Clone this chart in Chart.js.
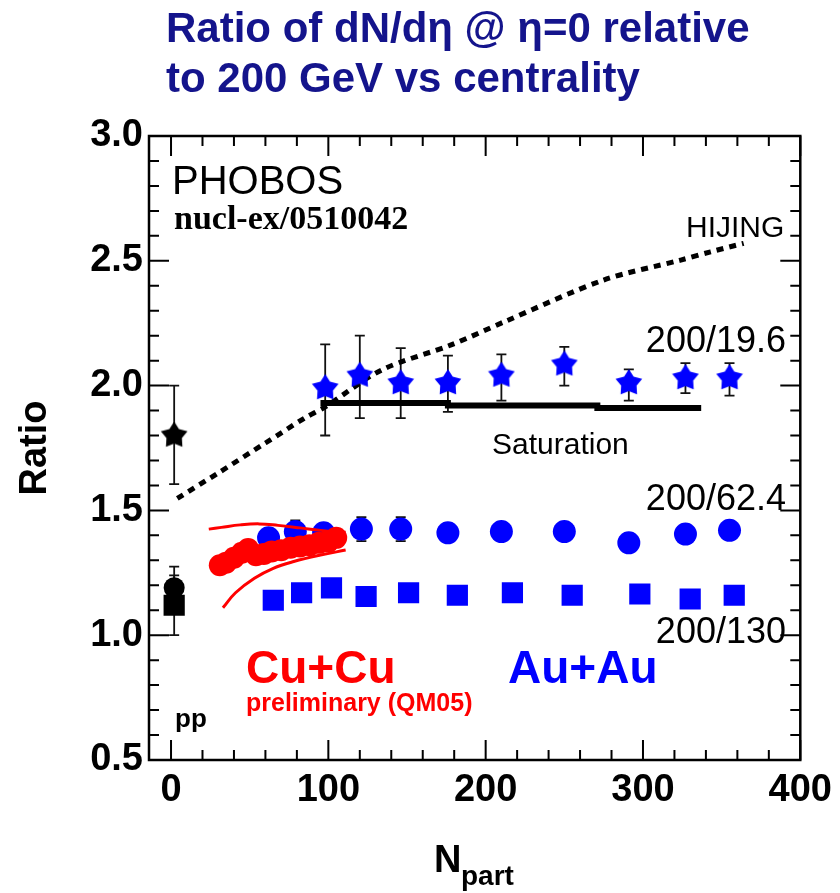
<!DOCTYPE html>
<html>
<head>
<meta charset="utf-8">
<script src="https://cdn.jsdelivr.net/npm/chart.js@4.4.0/dist/chart.umd.min.js"></script>
<style>
  html, body { margin: 0; padding: 0; background: #fff; }
  #wrap { width: 840px; height: 893px; }
</style>
</head>
<body>
<div id="wrap"><canvas id="chart" width="840" height="893"></canvas></div>
<script>
// ── 座標軸刻度 ──
const xTicks = [0, 100, 200, 300, 400];
const yTicks = [0.5, 1.0, 1.5, 2.0, 2.5, 3.0];

// ── Au+Au 200/62.4 (圓點) ──
const au624Npart = [62, 79, 97, 121, 146, 176, 210, 250, 291, 327, 355];
const au624      = [1.39, 1.415, 1.41, 1.425, 1.425, 1.41, 1.415, 1.415, 1.37, 1.405, 1.42];
const au624Err   = [0.02, 0.045, 0.035, 0.048, 0.048, 0.02, 0.02, 0.02, 0.02, 0.02, 0.02];

// ── Au+Au 200/130 (方塊) ──
const au130Npart = [65, 83, 102, 124, 151, 182, 217, 255, 298, 330, 358];
const au130      = [1.14, 1.17, 1.19, 1.155, 1.17, 1.16, 1.17, 1.16, 1.165, 1.145, 1.16];

// ── Au+Au 200/19.6 (星號) ──
const au196Npart = [98, 120, 146, 176, 210, 250, 291, 327, 355];
const au196      = [1.99, 2.04, 2.01, 2.01, 2.04, 2.085, 2.01, 2.03, 2.03];
const au196Lo    = [1.80, 1.87, 1.87, 1.895, 1.94, 2.0, 1.94, 1.97, 1.96];
const au196Hi    = [2.165, 2.20, 2.15, 2.12, 2.125, 2.155, 2.065, 2.09, 2.09];

// ── pp ──
const ppNpart = [2];
const pp196 = [1.80], pp196Lo = [1.605], pp196Hi = [2.0];
const pp624 = [1.19], pp624Lo = [1.105], pp624Hi = [1.275];
const pp130 = [1.12], pp130Lo = [1.0],   pp130Hi = [1.24];

// ── Cu+Cu 200/62.4 preliminary ──
const cuNpart = [31, 35, 40, 45, 49, 54, 59, 64, 70, 76, 82, 88, 94, 100, 105];
const cu624   = [1.28, 1.29, 1.31, 1.33, 1.345, 1.32, 1.325, 1.335, 1.34, 1.35, 1.355, 1.36, 1.37, 1.375, 1.39];
const cuHiNpart = [24, 32, 44, 56, 68, 82, 95, 111];
const cuHi      = [1.425, 1.432, 1.442, 1.446, 1.44, 1.43, 1.42, 1.412];
const cuLoNpart = [33, 41, 53, 65, 78, 95, 111];
const cuLo      = [1.11, 1.17, 1.228, 1.268, 1.295, 1.321, 1.341];

// ── HIJING / Saturation ──
const hijingNpart = [4, 30, 60, 85, 98, 134, 178, 212, 275, 324, 343, 364];
const hijing      = [1.548, 1.65, 1.77, 1.87, 1.915, 2.063, 2.163, 2.256, 2.423, 2.503, 2.536, 2.57];
const satNpart = [95, 176, 176, 271, 271, 337];
const sat      = [1.93, 1.93, 1.92, 1.92, 1.91, 1.91];

const BLUE = '#0000ff';
const RED  = '#ff0000';
const NAVY = '#14148c';

// ── 組合 {x,y} ──
function pts(xs, ys) {
    return xs.map((x, i) => ({ x: x, y: ys[i] }));
}

// ── 星形標記 ──
function makeStar(color, size) {
    const c = document.createElement('canvas');
    c.width = c.height = size;
    const g = c.getContext('2d');
    const r = size / 2, ri = r * 0.58;
    g.beginPath();
    for (let k = 0; k < 10; k++) {
        const ang = -Math.PI / 2 + k * Math.PI / 5;
        const rr = k % 2 ? ri : r;
        g.lineTo(r + rr * Math.cos(ang), r + rr * Math.sin(ang));
    }
    g.closePath();
    g.fillStyle = color;
    g.fill();
    return c;
}

// ── 誤差棒 ──
const errorBars = {
    id: 'errorBars',
    beforeDatasetsDraw(chart) {
        const { ctx, scales: { y } } = chart;
        ctx.save();
        ctx.strokeStyle = '#111';
        ctx.lineWidth = 1.8;
        chart.data.datasets.forEach((ds, di) => {
            if (!ds.errLo) return;
            const meta = chart.getDatasetMeta(di);
            meta.data.forEach((pt, i) => {
                const y1 = y.getPixelForValue(ds.errLo[i]);
                const y2 = y.getPixelForValue(ds.errHi[i]);
                ctx.beginPath();
                ctx.moveTo(pt.x, y1); ctx.lineTo(pt.x, y2);
                ctx.moveTo(pt.x - 5, y1); ctx.lineTo(pt.x + 5, y1);
                ctx.moveTo(pt.x - 5, y2); ctx.lineTo(pt.x + 5, y2);
                ctx.stroke();
            });
        });
        ctx.restore();
    }
};

// ── 邊框與內向刻度 ──
const frameTicks = {
    id: 'frameTicks',
    afterDraw(chart) {
        const { ctx, chartArea: a, scales: { x, y } } = chart;
        ctx.save();
        ctx.strokeStyle = '#000';
        ctx.lineWidth = 2;
        ctx.beginPath();
        for (let v = 0; v <= 400; v += 20) {
            const px = x.getPixelForValue(v);
            const len = v % 100 === 0 ? 20 : 10;
            ctx.moveTo(px, a.bottom); ctx.lineTo(px, a.bottom - len);
            ctx.moveTo(px, a.top);    ctx.lineTo(px, a.top + len);
        }
        for (let i = 5; i <= 30; i++) {
            const py = y.getPixelForValue(i / 10);
            const len = i % 5 === 0 ? 20 : 10;
            ctx.moveTo(a.left, py);  ctx.lineTo(a.left + len, py);
            ctx.moveTo(a.right, py); ctx.lineTo(a.right - len, py);
        }
        ctx.stroke();
        ctx.lineWidth = 2.5;
        ctx.strokeRect(a.left, a.top, a.right - a.left, a.bottom - a.top);
        ctx.restore();
    }
};

// ── 文字標註 ──
const labels = {
    id: 'labels',
    afterDraw(chart) {
        const ctx = chart.ctx;
        ctx.save();
        ctx.textBaseline = 'alphabetic';
        ctx.textAlign = 'left';

        ctx.fillStyle = NAVY;
        ctx.font = 'bold 42px "Liberation Sans", Arial, sans-serif';
        ctx.fillText('Ratio of dN/dη @ η=0 relative', 166, 42);
        ctx.fillText('to 200 GeV vs centrality', 166, 92);

        ctx.fillStyle = '#000';
        ctx.font = '40px "Liberation Sans", Arial, sans-serif';
        ctx.fillText('PHOBOS', 172, 194);
        ctx.font = 'bold 34px "Liberation Serif", "Times New Roman", serif';
        ctx.fillText('nucl-ex/0510042', 174, 229);

        ctx.font = '30px "Liberation Sans", Arial, sans-serif';
        ctx.fillText('HIJING', 686, 237);
        ctx.fillText('Saturation', 492, 454);
        ctx.font = '36px "Liberation Sans", Arial, sans-serif';
        ctx.textAlign = 'right';
        ctx.fillText('200/19.6', 786, 352);
        ctx.fillText('200/62.4', 786, 510);
        ctx.fillText('200/130', 786, 643);
        ctx.textAlign = 'left';

        ctx.font = 'bold 26px "Liberation Sans", Arial, sans-serif';
        ctx.fillText('pp', 175, 727);

        ctx.font = 'bold 46px "Liberation Sans", Arial, sans-serif';
        ctx.fillStyle = RED;
        ctx.fillText('Cu+Cu', 246, 683);
        ctx.fillStyle = BLUE;
        ctx.fillText('Au+Au', 508, 683);
        ctx.fillStyle = RED;
        ctx.font = 'bold 25px "Liberation Sans", Arial, sans-serif';
        ctx.fillText('preliminary (QM05)', 246, 711);

        // 軸標題
        ctx.fillStyle = '#000';
        ctx.font = 'bold 38px "Liberation Sans", Arial, sans-serif';
        ctx.save();
        ctx.translate(46, 448);
        ctx.rotate(-Math.PI / 2);
        ctx.textAlign = 'center';
        ctx.fillText('Ratio', 0, 0);
        ctx.restore();

        ctx.font = 'bold 38px "Liberation Sans", Arial, sans-serif';
        ctx.fillText('N', 434, 872);
        ctx.font = 'bold 28px "Liberation Sans", Arial, sans-serif';
        ctx.fillText('part', 461, 885);
        ctx.restore();
    }
};

const starBlue  = makeStar(BLUE, 28);
const starBlack = makeStar('#000', 28);

new Chart(document.getElementById('chart').getContext('2d'), {
    type: 'scatter',
    data: {
        datasets: [
            {   // Cu+Cu 點
                data: pts(cuNpart, cu624),
                pointStyle: 'circle', pointRadius: 11,
                backgroundColor: RED, borderColor: RED, borderWidth: 0,
                order: 1
            },
            {   // Cu+Cu 上緣
                type: 'line', data: pts(cuHiNpart, cuHi),
                borderColor: RED, borderWidth: 3, pointRadius: 0, tension: 0.4, fill: false,
                order: 2
            },
            {   // Cu+Cu 下緣
                type: 'line', data: pts(cuLoNpart, cuLo),
                borderColor: RED, borderWidth: 3, pointRadius: 0, tension: 0.4, fill: false,
                order: 2
            },
            {   // 200/62.4
                data: pts(au624Npart, au624),
                errLo: au624.map((v, i) => v - au624Err[i]),
                errHi: au624.map((v, i) => v + au624Err[i]),
                pointStyle: 'circle', pointRadius: 11.5,
                backgroundColor: BLUE, borderColor: BLUE, borderWidth: 0,
                order: 3
            },
            {   // 200/130
                data: pts(au130Npart, au130),
                pointStyle: 'rect', pointRadius: 15,
                backgroundColor: BLUE, borderColor: BLUE, borderWidth: 0,
                order: 3
            },
            {   // 200/19.6
                data: pts(au196Npart, au196),
                errLo: au196Lo, errHi: au196Hi,
                pointStyle: starBlue, pointRadius: 14,
                order: 3
            },
            {   // pp 星
                data: pts(ppNpart, pp196),
                errLo: pp196Lo, errHi: pp196Hi,
                pointStyle: starBlack, pointRadius: 14,
                order: 3
            },
            {   // pp 方塊
                data: pts(ppNpart, pp130),
                errLo: pp130Lo, errHi: pp130Hi,
                pointStyle: 'rect', pointRadius: 15,
                backgroundColor: '#000', borderColor: '#000', borderWidth: 0,
                order: 4
            },
            {   // pp 圓
                data: pts(ppNpart, pp624),
                errLo: pp624Lo, errHi: pp624Hi,
                pointStyle: 'circle', pointRadius: 10.5,
                backgroundColor: '#000', borderColor: '#000', borderWidth: 0,
                order: 4
            },
            {   // Saturation
                type: 'line', data: pts(satNpart, sat),
                borderColor: '#000', borderWidth: 6, pointRadius: 0, fill: false,
                order: 5
            },
            {   // HIJING
                type: 'line', data: pts(hijingNpart, hijing),
                borderColor: '#000', borderWidth: 5, borderDash: [7, 6],
                pointRadius: 0, tension: 0.3, fill: false,
                order: 5
            }
        ]
    },
    options: {
        responsive: false,
        animation: false,
        events: [],
        layout: { padding: { top: 136, right: 37, left: 0, bottom: 0 } },
        plugins: {
            legend: { display: false },
            tooltip: { enabled: false }
        },
        scales: {
            x: {
                type: 'linear',
                min: -14, max: 400,
                afterBuildTicks: s => { s.ticks = xTicks.map(v => ({ value: v })); },
                afterFit: s => { s.height = 133; },
                grid: { display: false, drawTicks: false },
                border: { display: false },
                ticks: {
                    padding: 8,
                    color: '#000',
                    font: { family: '"Liberation Sans", Arial, sans-serif', size: 38, weight: 'bold' },
                    callback: v => String(v)
                }
            },
            y: {
                type: 'linear',
                min: 0.5, max: 3.0,
                afterBuildTicks: s => { s.ticks = yTicks.map(v => ({ value: v })); },
                afterFit: s => { s.width = 149; },
                grid: { display: false, drawTicks: false },
                border: { display: false },
                ticks: {
                    padding: 6,
                    color: '#000',
                    font: { family: '"Liberation Sans", Arial, sans-serif', size: 38, weight: 'bold' },
                    callback: v => Number(v).toFixed(1)
                }
            }
        }
    },
    plugins: [errorBars, frameTicks, labels]
});
</script>
</body>
</html>
